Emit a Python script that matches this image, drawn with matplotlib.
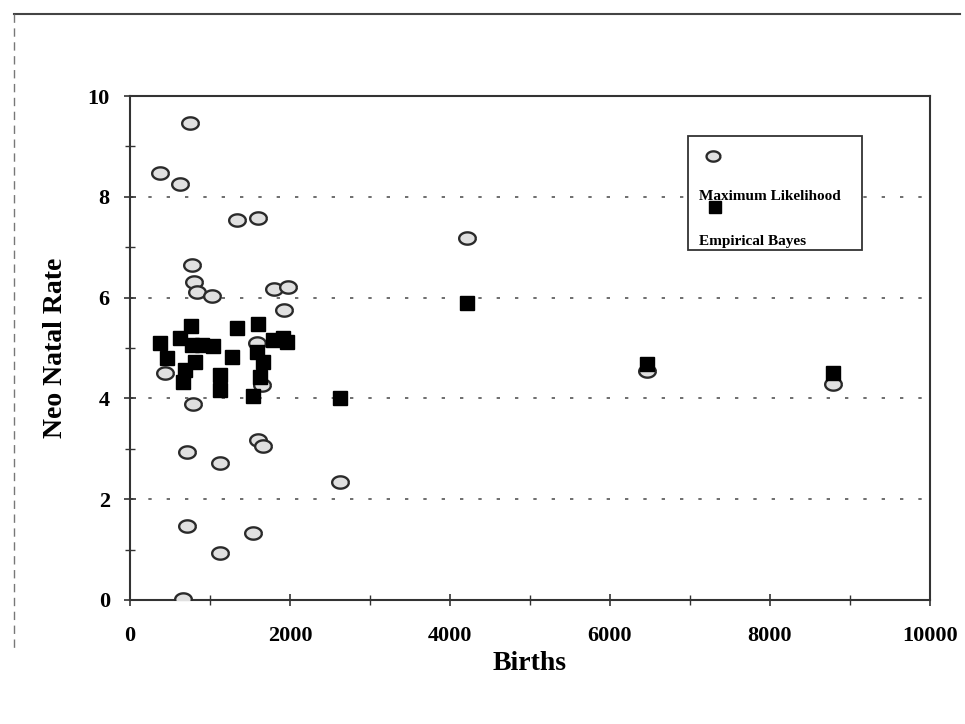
import numpy as np
import matplotlib
matplotlib.use("Agg")
import matplotlib.pyplot as plt
from matplotlib.lines import Line2D
from matplotlib.patches import Rectangle
from matplotlib.ticker import MultipleLocator

# Maximum likelihood estimates (circles)
ml_births = [750, 375, 625, 1333, 1604, 771, 800, 833, 1021, 1800, 1979, 1929,
             437, 792, 1583, 1646, 708, 1125, 1604, 1667, 2625, 708, 1542, 1125,
             667, 4208, 6458, 8792]
ml_rate = [9.46, 8.47, 8.25, 7.54, 7.57, 6.65, 6.30, 6.12, 6.04, 6.17, 6.22, 5.75,
           4.51, 3.89, 5.10, 4.27, 2.94, 2.71, 3.17, 3.06, 2.35, 1.47, 1.32, 0.93,
           0.01, 7.18, 4.55, 4.29]

# Empirical Bayes estimates (squares)
eb_births = [375, 458, 625, 758, 771, 896, 1042, 812, 687, 667, 1333, 1271, 1125,
             1125, 1604, 1583, 1667, 1625, 1542, 1792, 1917, 1958, 2625, 4208,
             6458, 8792]
eb_rate = [5.09, 4.81, 5.19, 5.44, 5.06, 5.06, 5.04, 4.73, 4.56, 4.33, 5.39, 4.83,
           4.46, 4.17, 5.48, 4.93, 4.73, 4.43, 4.05, 5.16, 5.20, 5.12, 4.00, 5.90,
           4.68, 4.50]

x_ticks = [0, 2000, 4000, 6000, 8000, 10000]
y_ticks = [0, 2, 4, 6, 8, 10]
grid_levels = [2, 4, 6, 8]

plt.rcParams["font.family"] = ["Liberation Serif", "DejaVu Serif"]
plt.rcParams["font.weight"] = "bold"

# slightly flattened circle marker
t = np.linspace(0, 2 * np.pi, 40)
ellipse = list(zip(np.cos(t), 0.74 * np.sin(t)))

fig = plt.figure(figsize=(9.65, 7.24), dpi=100)
ax = fig.add_axes([0.1347, 0.1713, 0.8290, 0.6961])

circle_style = dict(linestyle="none", marker=ellipse, markersize=12,
                    markerfacecolor="#e0e0e0", markeredgecolor="#2a2a2a",
                    markeredgewidth=1.7)
square_style = dict(linestyle="none", marker="s", markersize=10.5,
                    markerfacecolor="black", markeredgecolor="black")

for lvl in grid_levels:
    ax.axhline(lvl, color="#555555", lw=1.2, linestyle=(0, (2, 9)), zorder=1)

ax.plot(ml_births, ml_rate, zorder=3, **circle_style)
ax.plot(eb_births, eb_rate, zorder=4, **square_style)

ax.set_xlim(0, 10000)
ax.set_ylim(0, 10)
ax.set_xticks(x_ticks)
ax.set_yticks(y_ticks)
ax.xaxis.set_minor_locator(MultipleLocator(1000))
ax.yaxis.set_minor_locator(MultipleLocator(1))
ax.tick_params(which="major", direction="inout", length=9, width=1.2,
               color="#333333", labelsize=16, pad=10)
ax.tick_params(which="minor", direction="inout", length=7, width=1.0,
               color="#333333")
ax.tick_params(axis="x", which="major", pad=14)
for lab in ax.get_xticklabels() + ax.get_yticklabels():
    lab.set_fontweight("bold")

for sp in ax.spines.values():
    sp.set_linewidth(1.5)
    sp.set_color("#333333")

ax.set_xlabel("Births", fontsize=20, fontweight="bold", labelpad=4)
ax.set_ylabel("Neo Natal Rate", fontsize=20, fontweight="bold", labelpad=14)

# legend box with markers stacked above their labels
ax.add_patch(Rectangle((0.6975, 0.694), 0.2175, 0.2266, transform=ax.transAxes,
                       facecolor="white", edgecolor="#333333", lw=1.3, zorder=5))
ax.plot([0.729], [0.881], transform=ax.transAxes, zorder=6, clip_on=False,
        **dict(circle_style, markersize=10))
ax.text(0.711, 0.801, "Maximum Likelihood", transform=ax.transAxes,
        fontsize=11, fontweight="bold", va="center", ha="left", zorder=6)
ax.plot([0.731], [0.780], transform=ax.transAxes, zorder=6, clip_on=False,
        **dict(square_style, markersize=9))
ax.text(0.711, 0.712, "Empirical Bayes", transform=ax.transAxes,
        fontsize=11, fontweight="bold", va="center", ha="left", zorder=6)

# outer frame of the scanned page
fig.add_artist(Line2D([0.014, 0.995], [0.981, 0.981], transform=fig.transFigure,
                      color="#444444", lw=1.5))
fig.add_artist(Line2D([0.014, 0.014], [0.981, 0.10], transform=fig.transFigure,
                      color="#777777", lw=1.0, linestyle=(0, (6, 4))))

fig.savefig("out.png", dpi=100)
